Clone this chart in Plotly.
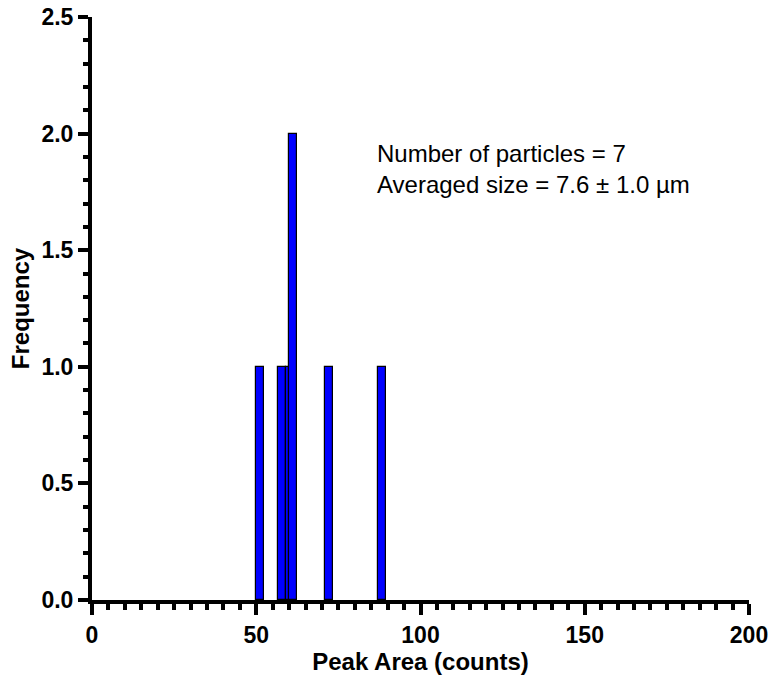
import plotly.graph_objects as go

# Data
bar_x = [51.2, 57.9, 60.3, 61.2, 72.2, 88.3]
bar_y = [1, 1, 1, 2, 1, 1]
bar_width = 2.5

x_ticks = [0, 50, 100, 150, 200]
y_ticks = [0.0, 0.5, 1.0, 1.5, 2.0, 2.5]
y_tick_text = ["0.0", "0.5", "1.0", "1.5", "2.0", "2.5"]

annotation_lines = ["Number of particles = 7", "Averaged size = 7.6 ± 1.0 µm"]

FONT = "Liberation Sans, Arial, sans-serif"

fig = go.Figure()
fig.add_trace(go.Bar(
    x=bar_x, y=bar_y, width=[bar_width] * len(bar_x),
    marker=dict(color="#0000FF", line=dict(color="black", width=1.2)),
    showlegend=False,
))

axis_common = dict(
    showgrid=False, zeroline=False, showline=True, linecolor="black", linewidth=4,
    ticks="outside", tickwidth=4, tickcolor="black", automargin=False,
    tickfont=dict(family=FONT, size=23, color="black", weight="bold"),
    title_font=dict(family=FONT, size=24, color="black", weight="bold"),
)

fig.update_xaxes(
    **axis_common, range=[0, 200], tickvals=x_ticks, ticklen=11,
    minor=dict(ticks="outside", dtick=5, tick0=0, ticklen=6, tickwidth=4, tickcolor="black"),
    title_text="Peak Area (counts)", title_standoff=5,
)
fig.update_yaxes(
    **axis_common, range=[0, 2.5], tickvals=y_ticks, ticktext=y_tick_text, ticklen=10,
    minor=dict(ticks="outside", dtick=0.1, tick0=0, ticklen=5, tickwidth=4, tickcolor="black"),
    title_text="Frequency", title_standoff=6,
)

fig.add_annotation(
    x=86.2, y=1.85, xref="x", yref="y", xanchor="left", yanchor="middle",
    text="<br>".join(annotation_lines), showarrow=False, align="left",
    font=dict(family=FONT, size=24, color="black"),
)

fig.update_layout(
    width=771, height=682,
    margin=dict(l=92, r=22, t=17, b=82),
    plot_bgcolor="white", paper_bgcolor="white",
    bargap=0, barmode="overlay",
)

fig.write_html("out.html")
